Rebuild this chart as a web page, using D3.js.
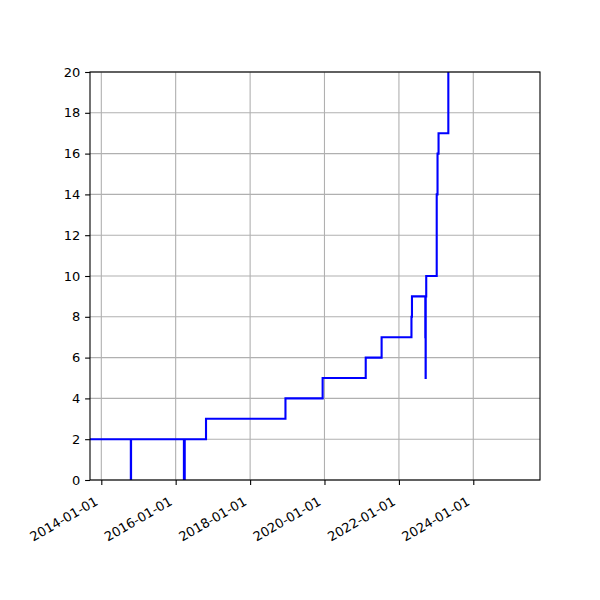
<!DOCTYPE html>
<html>
<head>
<meta charset="utf-8">
<script src="https://cdn.jsdelivr.net/npm/d3@7"></script>
<style>
  body { margin: 0; background: #fff; }
  text { font-family: "DejaVu Sans", sans-serif; font-size: 13px; fill: #000; }
</style>
</head>
<body>
<div id="chart"></div>
<script>
// step data (date, value)
const dates = [
    "2013-09-01", "2014-10-18", "2014-10-20",
    "2016-03-22", "2016-03-30", "2016-10-25",
    "2018-12-14", "2019-12-14", "2021-02-09",
    "2021-07-15", "2022-05-04", "2022-05-09",
    "2022-09-17", "2022-09-18", "2022-09-20",
    "2022-09-21", "2022-09-26",
    "2023-01-07", "2023-01-15", "2023-01-25",
    "2023-05-01"
];
const values = [2, 0, 2, 0, 2, 3, 4, 5, 6, 7, 8, 9, 7, 9, 5, 9, 10, 14, 16, 17, 22];
const x_ticks = ["2014-01-01", "2016-01-01", "2018-01-01", "2020-01-01", "2022-01-01", "2024-01-01"];
const y_ticks = [0, 2, 4, 6, 8, 10, 12, 14, 16, 18, 20];
const x_limits = ["2013-09-12", "2025-10-17"];

const width = 600, height = 600;
const margin = {left: 90, right: 60, top: 72, bottom: 120};
const parse = d3.utcParse("%Y-%m-%d");

const svg = d3.select("#chart").append("svg")
    .attr("width", width).attr("height", height);

const x = d3.scaleUtc().domain(x_limits.map(parse)).range([margin.left, width - margin.right]);
const y = d3.scaleLinear().domain([0, 20]).range([height - margin.bottom, margin.top]);

const data = dates.map((d, i) => ({date: parse(d), value: values[i]}));

svg.append("clipPath").attr("id", "clip").append("rect")
    .attr("x", margin.left).attr("y", margin.top)
    .attr("width", width - margin.left - margin.right)
    .attr("height", height - margin.top - margin.bottom);

// grid
const grid = svg.append("g").attr("stroke", "#b0b0b0").attr("stroke-width", 1.1);
grid.selectAll(".gx").data(x_ticks.map(parse)).enter().append("line")
    .attr("x1", d => x(d)).attr("x2", d => x(d))
    .attr("y1", margin.top).attr("y2", height - margin.bottom);
grid.selectAll(".gy").data(y_ticks).enter().append("line")
    .attr("x1", margin.left).attr("x2", width - margin.right)
    .attr("y1", d => y(d)).attr("y2", d => y(d));

// line
const line = d3.line().x(d => x(d.date)).y(d => y(d.value)).curve(d3.curveStepAfter);
svg.append("path").datum(data)
    .attr("clip-path", "url(#clip)")
    .attr("d", line)
    .attr("fill", "none")
    .attr("stroke", "#0000ff")
    .attr("stroke-width", 2.1);

// axes
const xAxis = svg.append("g")
    .attr("transform", `translate(0,${height - margin.bottom})`)
    .call(d3.axisBottom(x).tickValues(x_ticks.map(parse)).tickFormat(d3.utcFormat("%Y-%m-%d")).tickSizeOuter(0).tickSize(4.9).tickPadding(0));
xAxis.select(".domain").remove();
xAxis.selectAll(".tick line").attr("stroke", "#000").attr("stroke-width", 1.1);
xAxis.selectAll(".tick text")
    .attr("text-anchor", "end")
    .attr("dy", null).attr("y", null)
    .attr("transform", "translate(-3,24) rotate(-30)");

const yAxis = svg.append("g")
    .attr("transform", `translate(${margin.left},0)`)
    .call(d3.axisLeft(y).tickValues(y_ticks).tickSizeOuter(0).tickSize(4.9).tickPadding(4.9));
yAxis.select(".domain").remove();
yAxis.selectAll(".tick line").attr("stroke", "#000").attr("stroke-width", 1.1);

svg.selectAll(".tick text").style("font-family", "DejaVu Sans").style("font-size", "13px");

// frame
svg.append("rect")
    .attr("x", margin.left).attr("y", margin.top)
    .attr("width", width - margin.left - margin.right)
    .attr("height", height - margin.top - margin.bottom)
    .attr("fill", "none").attr("stroke", "#000").attr("stroke-width", 1.1);
</script>
</body>
</html>
